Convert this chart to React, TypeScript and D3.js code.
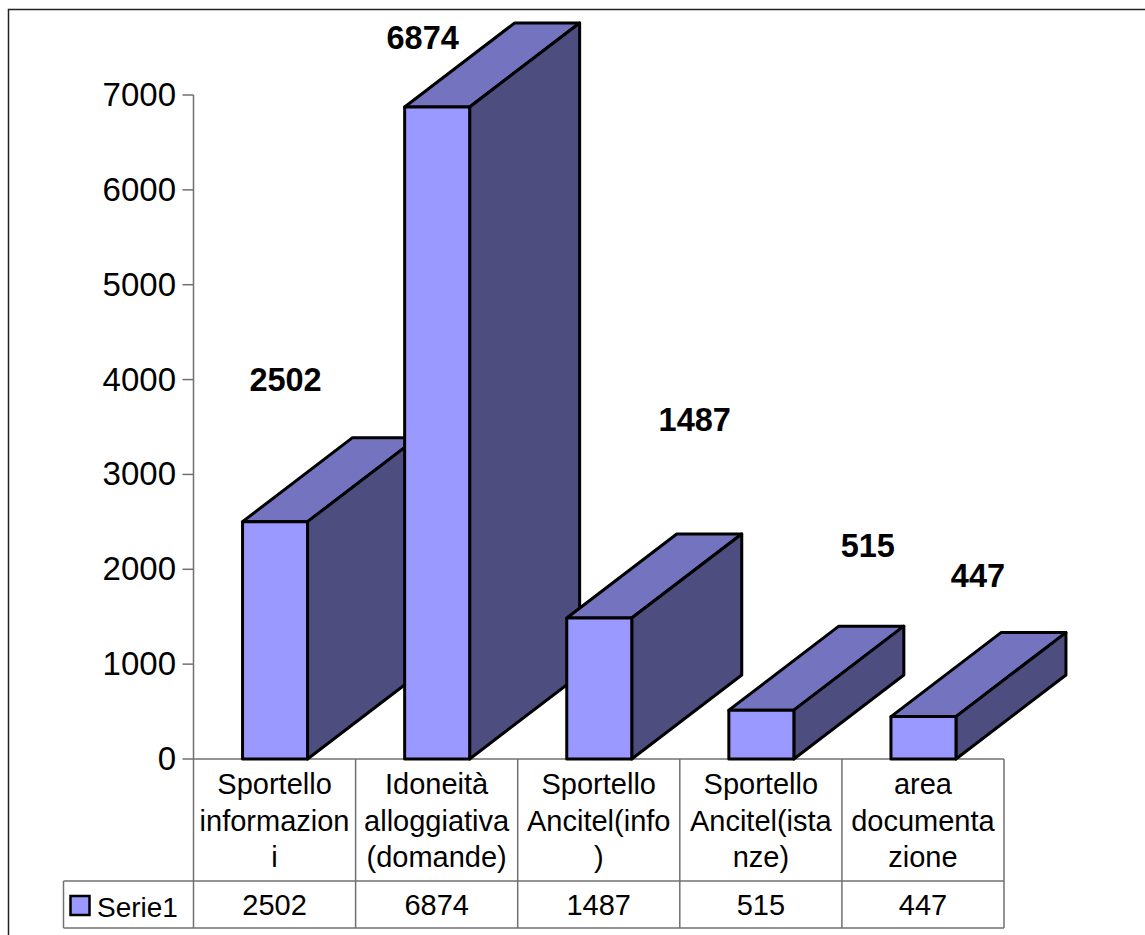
import React from "react";
import * as d3 from "d3";

const categories = [
  ["Sportello", "informazion", "i"],
  ["Idoneità", "alloggiativa", "(domande)"],
  ["Sportello", "Ancitel(info", ")"],
  ["Sportello", "Ancitel(ista", "nze)"],
  ["area", "documenta", "zione"],
];
const seriesName = "Serie1";
const values = [2502, 6874, 1487, 515, 447];
const yTicks = [0, 1000, 2000, 3000, 4000, 5000, 6000, 7000];

// Hand-placed data labels: centre shift from the bar's front face, and height above its top.
const labelShiftX = [11, -14, 96, 107, 55];
const labelLift = [131, 58, 187, 153, 130];

const FONT = "'Liberation Sans', Arial, sans-serif";
const FRONT = "#9999ff";
const TOP = "#7373bf";
const SIDE = "#4d4d80";
const GRID = "#707070";

const axisX = 193.5;
const tableRight = 1004;
const baseY = 759;
const headerBottom = 881;
const tableBottom = 928;
const legendLeft = 63.5;
const depthX = 110;
const depthY = 84;
const barWidth = 65;

const y = d3.scaleLinear().domain([0, 7000]).range([baseY, 95]);
const x = d3
  .scaleBand<number>()
  .domain(d3.range(values.length))
  .range([axisX, tableRight]);

const poly = (pts: [number, number][]) => (d3.line()(pts) ?? "") + "Z";

export default function App() {
  return (
    <svg
      width={1145}
      height={935}
      style={{ position: "absolute", left: 0, top: 0, background: "#fff" }}
      fontFamily={FONT}
    >
      <path d="M8.5 935V9.5H1145" fill="none" stroke="#222" strokeWidth={1.5} />

      {/* value axis */}
      <line x1={axisX} x2={axisX} y1={y(7000)} y2={baseY} stroke={GRID} strokeWidth={1.5} />
      {yTicks.map((t) => (
        <g key={t}>
          <line x1={axisX - 11} x2={axisX} y1={y(t)} y2={y(t)} stroke={GRID} strokeWidth={1.5} />
          <text x={176} y={y(t) + 11} fontSize={33} textAnchor="end" fill="#000">
            {t}
          </text>
        </g>
      ))}

      {/* data table under the columns */}
      <g stroke={GRID} strokeWidth={1.5} fill="none">
        <line x1={axisX} x2={tableRight} y1={baseY} y2={baseY} />
        <line x1={legendLeft} x2={tableRight} y1={headerBottom} y2={headerBottom} />
        <line x1={legendLeft} x2={tableRight} y1={tableBottom} y2={tableBottom} />
        <line x1={legendLeft} x2={legendLeft} y1={headerBottom} y2={tableBottom} />
        <line x1={axisX} x2={axisX} y1={baseY} y2={tableBottom} />
        {values.map((_, i) => {
          const right = (x(i) as number) + x.bandwidth();
          return <line key={i} x1={right} x2={right} y1={baseY} y2={tableBottom} />;
        })}
      </g>
      {categories.map((lines, i) => {
        const cx = (x(i) as number) + x.bandwidth() / 2;
        return (
          <g key={i} fontSize={29} textAnchor="middle" fill="#000">
            {lines.map((line, j) => (
              <text key={j} x={cx} y={794 + j * 36.5}>
                {line}
              </text>
            ))}
            <text x={cx} y={915}>
              {values[i]}
            </text>
          </g>
        );
      })}
      <rect x={70.5} y={896} width={19} height={19} fill={FRONT} stroke="#000" strokeWidth={2.5} />
      <text x={97} y={917} fontSize={28} fill="#000">
        {seriesName}
      </text>

      {/* columns: top, side, then front face */}
      <g stroke="#000" strokeWidth={3} strokeLinejoin="round">
        {values.map((v, i) => {
          const left = (x(i) as number) + (x.bandwidth() - barWidth) / 2 + 0.5;
          const right = left + barWidth;
          const top = y(v);
          return (
            <g key={i}>
              <path
                d={poly([
                  [left, top],
                  [left + depthX, top - depthY],
                  [right + depthX, top - depthY],
                  [right, top],
                ])}
                fill={TOP}
              />
              <path
                d={poly([
                  [right, top],
                  [right + depthX, top - depthY],
                  [right + depthX, baseY - depthY],
                  [right, baseY],
                ])}
                fill={SIDE}
              />
              <path
                d={poly([
                  [left, top],
                  [right, top],
                  [right, baseY],
                  [left, baseY],
                ])}
                fill={FRONT}
              />
            </g>
          );
        })}
      </g>

      {/* data labels */}
      {values.map((v, i) => (
        <text
          key={i}
          x={(x(i) as number) + x.bandwidth() / 2 + labelShiftX[i]}
          y={y(v) - labelLift[i]}
          fontSize={32.5}
          fontWeight="bold"
          textAnchor="middle"
          fill="#000"
        >
          {v}
        </text>
      ))}
    </svg>
  );
}
